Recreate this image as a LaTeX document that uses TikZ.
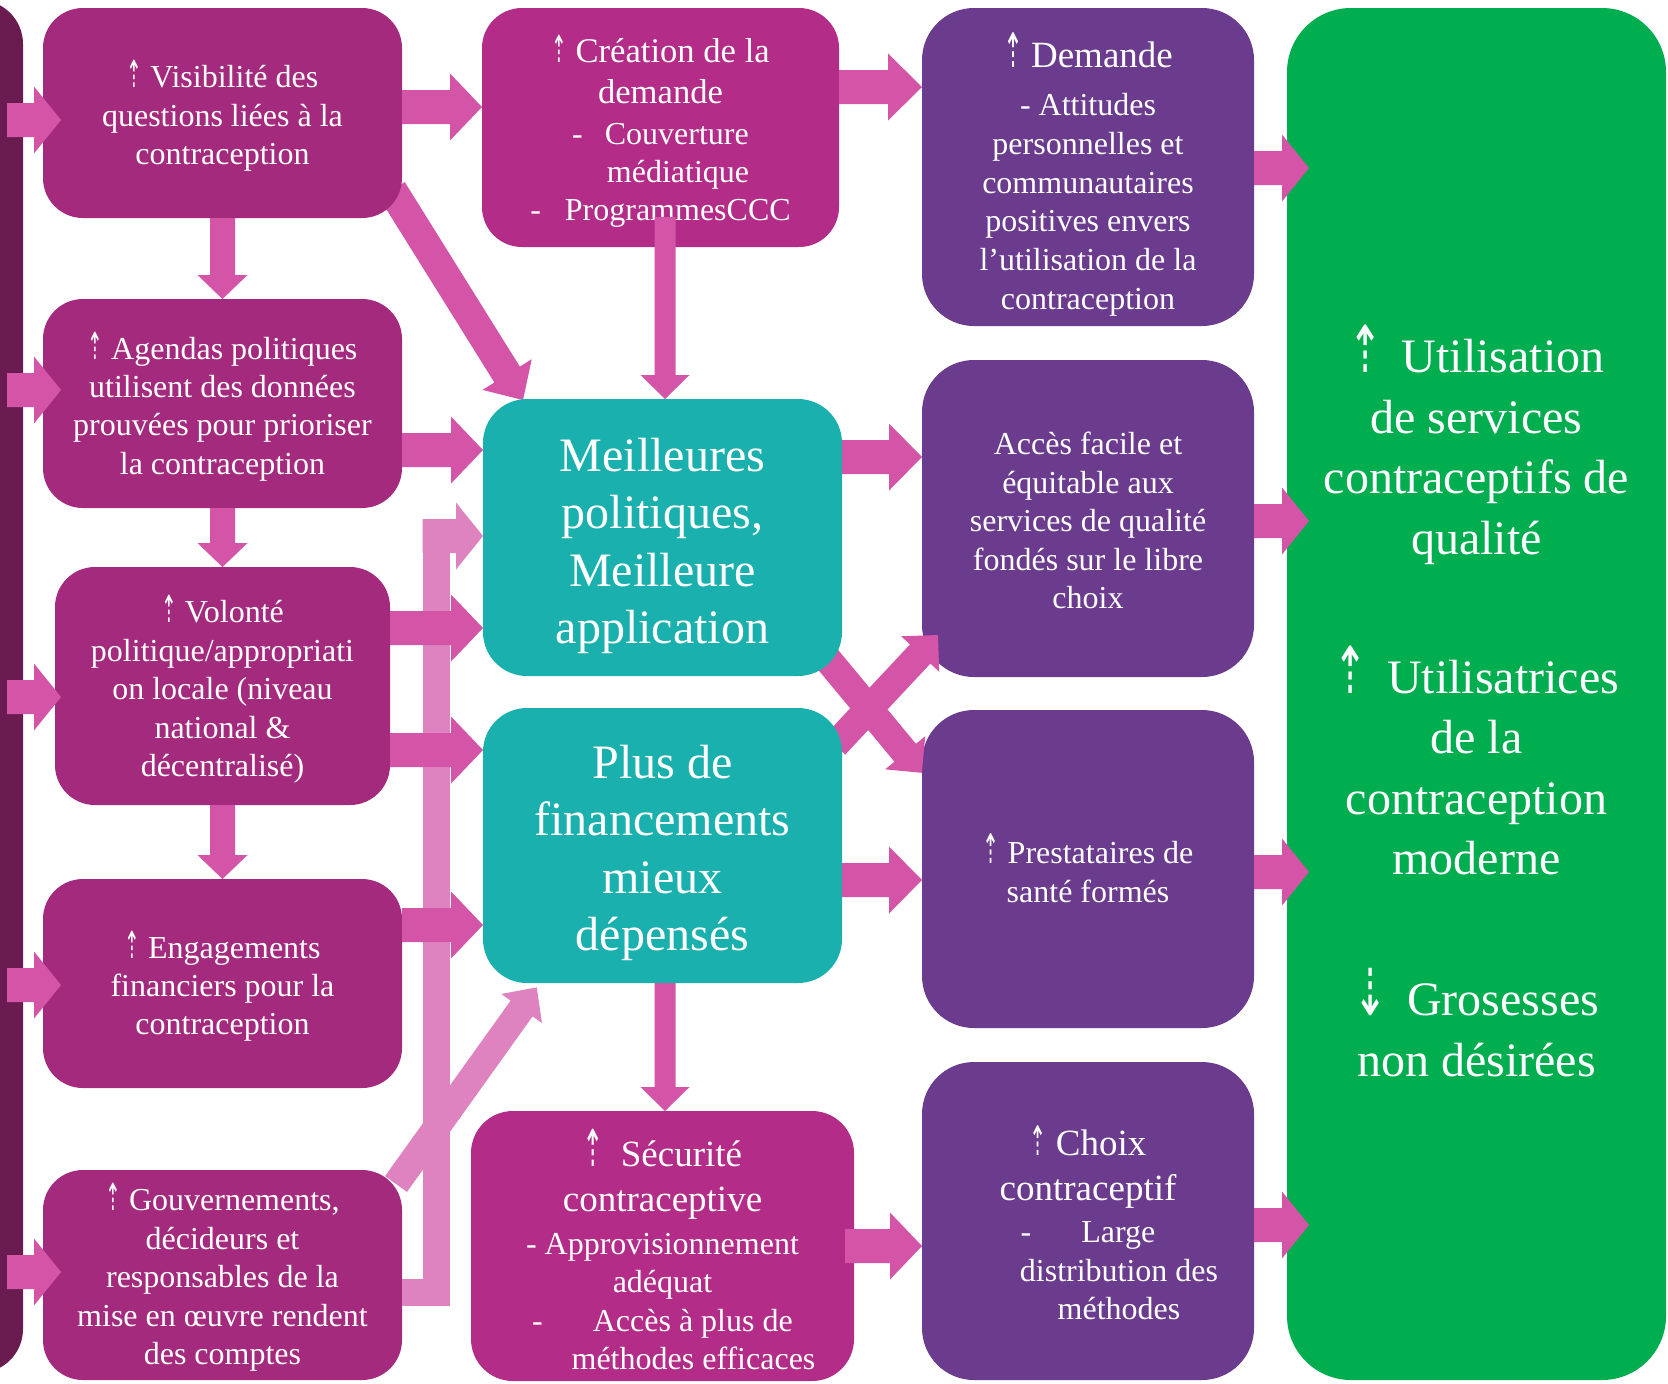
\documentclass[tikz,border=0pt]{standalone}
\usepackage{fontspec}
\usepackage{graphicx}
\setmainfont{Liberation Serif}
\newfontfamily\symfont{DejaVu Sans}
\usetikzlibrary{calc}
\definecolor{leftbox}{HTML}{A42A7E}
\definecolor{magbox}{HTML}{B22C88}
\definecolor{purbox}{HTML}{6B3B8E}
\definecolor{tealbox}{HTML}{1AB0AE}
\definecolor{greenbox}{HTML}{00AD4F}
\definecolor{darkstrip}{HTML}{6A1C51}
\definecolor{arrpink}{HTML}{D455A8}
\definecolor{arrlight}{HTML}{DE83C0}
\newcommand\fs[2]{\fontsize{#1}{#2}\selectfont}
\newcommand\upar[1]{\smash{\symfont\fontsize{#1}{#1}\selectfont\scalebox{0.85}[1.7]{⇡}}}
\newcommand\bigup{\smash{\symfont\fontsize{24pt}{24pt}\selectfont\scalebox{0.85}[1.35]{⇡}}}
\newcommand\bigdn{\smash{\symfont\fontsize{24pt}{24pt}\selectfont\scalebox{0.85}[1.35]{⇣}}}
% block arrow: #1 colour, #2 start, #3 tip, #4 shaft width, #5 head width, #6 head length
\newcommand\blockarrow[6]{%
  \path #2 coordinate (bas) #3 coordinate (bae);
  \pgfpointdiff{\pgfpointanchor{bas}{center}}{\pgfpointanchor{bae}{center}}%
  \pgfgetlastxy{\badx}{\bady}%
  \pgfmathsetmacro\baA{atan2(\bady,\badx)}%
  \pgfmathsetmacro\baL{veclen(\badx,\bady)}%
  \pgfpointanchor{bas}{center}\pgfgetlastxy{\baX}{\baY}%
  \fill[#1, shift={(\baX,\baY)}, rotate=\baA]
    (0pt,{-(#4)/2}) -- ({\baL pt-(#6)},{-(#4)/2}) -- ({\baL pt-(#6)},{-(#5)/2})
    -- ({\baL pt},0pt) -- ({\baL pt-(#6)},{(#5)/2}) -- ({\baL pt-(#6)},{(#4)/2})
    -- (0pt,{(#4)/2}) -- cycle;
}
\pgfdeclarelayer{bg}
\pgfdeclarelayer{mid}
\pgfsetlayers{bg,mid,main}
\begin{document}
\begin{tikzpicture}[x=0.5pt,y=-0.5pt,
  box/.style={rectangle, inner sep=0pt, outer sep=0pt},
  txt/.style={inner sep=0pt, outer sep=0pt, align=center, text=white, font=\fs{16pt}{19.2pt}},
  big/.style={font=\fs{24pt}{28.75pt}},
  leftb/.style={box, fill=leftbox, rounded corners=20pt, minimum width=179.5pt, minimum height=105pt},
  purb/.style={box, fill=purbox, rounded corners=26pt, minimum width=166pt, minimum height=159pt},
  tealb/.style={box, fill=tealbox, rounded corners=22pt, minimum width=179.5pt},
]
\useasboundingbox (0,0) rectangle (1668,1383);
% row / column helper coordinates
\coordinate (rA) at (0,120);
\coordinate (rB) at (0,390);
\coordinate (rC) at (0,697);
\coordinate (rD) at (0,985);
\coordinate (rE) at (0,1272);
\coordinate (rF) at (0,107);
\coordinate (rG) at (0,87);
\coordinate (rH) at (0,168);
\coordinate (rI) at (0,521);
\coordinate (rJ) at (0,872);
\coordinate (rK) at (0,1225);
\coordinate (rL) at (0,450);
\coordinate (rM) at (0,628);
\coordinate (rN) at (0,750);
\coordinate (rO) at (0,925);
\coordinate (rP) at (0,457);
\coordinate (rQ) at (0,880);
\coordinate (rR) at (0,1246);
\coordinate (rLb) at (0,1292);
\coordinate (rLt) at (0,536);
\coordinate (lbar) at (436,0);
\coordinate (cM) at (665,0);

\begin{pgfonlayer}{bg}
  \fill[white] (-10,-10) rectangle (1678,1393);
  \node[purb] (dem) at (1088,167) {};
  \node[purb, minimum height=158.5pt] (acc) at (1088,518.5) {};
  \node[purb] (pre) at (1088,869) {};
  \node[purb] (cho) at (1088,1221) {};
  \node[box, fill=greenbox, rounded corners=32pt, minimum width=189.5pt, minimum height=686pt] (grn) at (1476.5,694) {};
  \node[txt, font=\fs{16pt}{19.4pt}] (demT) at ($(dem.center)+(0,12)$)
    {\upar{14pt} {\fs{18.5pt}{22pt}Demande}\\[4.6pt] - Attitudes\\ personnelles et\\ communautaires\\ positives envers\\ l’utilisation de la\\ contraception};
  \node[txt] (accT) at ($(acc.center)+(0,2)$) {Accès facile et\\ équitable aux\\ services de qualité\\ fondés sur le libre\\ choix};
  \node[txt] (preT) at ($(pre.center)+(0,3)$) {\upar{12pt} Prestataires de\\ santé formés};
  \node[txt] (choT) at ($(cho.center)+(0,4)$)
    {{\fs{18.5pt}{22pt}\upar{12pt} Choix}\\[3.2pt] {\fs{18.5pt}{22pt}contraceptif}\\[2pt] -\hspace{25pt}Large\\ \hspace*{31pt}distribution des\\ \hspace*{31pt}méthodes};
  \node[txt, font=\fs{24pt}{30.3pt}] (grnT) at ($(grn.center)+(0,14)$)
    {\bigup\hspace{0.4em}Utilisation\\ de services\\ contraceptifs de\\ qualité\\[39pt]
     \bigup\hspace{0.4em}Utilisatrices\\ de la\\ contraception\\ moderne\\[40pt]
     \bigdn\hspace{0.4em}Grosesses\\ non désirées};
\end{pgfonlayer}

% main boxes
\node[box, fill=darkstrip, rounded corners=22pt, minimum width=51.5pt, minimum height=686.5pt] (strip) at (-28.5,686.5) {};
\node[leftb] (vis) at (222.5,113) {};
\node[leftb, minimum height=104.5pt] (age) at (222.5,403.5) {};
\node[leftb, minimum width=167.5pt, minimum height=119pt] (vol) at (222.5,686) {};
\node[leftb, minimum height=104.5pt] (eng) at (222.5,983.5) {};
\node[leftb] (gov) at (222.5,1275) {};
\node[box, fill=magbox, rounded corners=20pt, minimum width=178.5pt, minimum height=119.5pt] (cre) at (660.5,127.5) {};
\node[tealb, minimum height=138.5pt] (mei) at (662.5,537.5) {};
\node[tealb, minimum height=137.5pt] (plu) at (662.5,845.5) {};
\node[box, fill=magbox, rounded corners=21pt, minimum width=191.5pt, minimum height=135pt] (sec) at (662.5,1246) {};

\node[txt] (visT) at ($(vis.center)+(0,5.5)$) {\upar{11pt} Visibilité des\\ questions liées à la\\ contraception};
\node[txt] (ageT) at ($(age.center)+(0,5.5)$) {\upar{11pt} Agendas politiques\\ utilisent des données\\ prouvées pour prioriser\\ la contraception};
\node[txt] (volT) at ($(vol.center)+(0,6)$) {\upar{11pt} Volonté\\ politique/appropriati\\ on locale (niveau\\ national \&\\ décentralisé)};
\node[txt] (engT) at ($(eng.center)+(0,6)$) {\upar{11pt} Engagements\\ financiers pour la\\ contraception};
\node[txt] (govT) at ($(gov.center)+(0,5.5)$) {\upar{11pt} Gouvernements,\\ décideurs et\\ responsables de la\\ mise en œuvre rendent\\ des comptes};
\node[txt] (creT) at ($(cre.center)+(0,5.5)$)
  {{\fs{17.3pt}{20.7pt}\upar{11pt} Création de la}\\[1.5pt] {\fs{17.3pt}{20.7pt}demande}\\[1pt] -\hspace{11pt}Couverture\\ \hspace*{17.5pt}médiatique\\ -\hspace{12pt}ProgrammesCCC};
\node[txt, big] (meiT) at ($(mei.center)+(0,8.5)$) {Meilleures\\ politiques,\\ Meilleure\\ application};
\node[txt, big] (pluT) at ($(plu.center)+(0,7.5)$) {Plus de\\ financements\\ mieux\\ dépensés};
\node[txt] (secT) at ($(sec.center)+(0,9)$)
  {{\fs{18.5pt}{22pt}\upar{15pt}\hspace{0.45em}Sécurité}\\[3.7pt] {\fs{18.5pt}{22pt}contraceptive}\\[2pt] - Approvisionnement\\ adéquat\\ -\hspace{25pt}Accès à plus de\\ \hspace*{31pt}méthodes efficaces};

% arrows partly hidden behind boxes
\begin{pgfonlayer}{mid}
  \blockarrow{arrpink}{($(vis.south east)+(-10,-28)$)}{($(mei.north west)+(40,1)$)}{15pt}{29pt}{15pt}
  \blockarrow{arrlight}{($(gov.north east)+(-6,14)$)}{($(plu.south west)+(54,4)$)}{13.5pt}{25pt}{13pt}
  \blockarrow{arrpink}{($(mei.south east)+(-22,-26)$)}{($(pre.north west)+(0,63)$)}{14pt}{26pt}{13pt}
  \blockarrow{arrpink}{($(plu.north east)+(-7,37)$)}{($(acc.south west)+(16,-42)$)}{14pt}{26pt}{13pt}
\end{pgfonlayer}

% light bent arrow
\draw[arrlight, line width=13.5pt, line join=miter] (gov.east|-rLb) -- (lbar|-rLb) -- ($(lbar|-rLt)+(0,-17)$);
\blockarrow{arrlight}{($(lbar|-rLt)+(-13.5,0)$)}{(mei.west|-rLt)}{17pt}{33.5pt}{13.5pt}

% left inputs
\blockarrow{arrpink}{($(strip.east|-rA)+(-16,0)$)}{($(vis.west|-rA)+(18,0)$)}{17pt}{33.5pt}{13.5pt}
\blockarrow{arrpink}{($(strip.east|-rB)+(-16,0)$)}{($(age.west|-rB)+(18,0)$)}{17pt}{33.5pt}{13.5pt}
\blockarrow{arrpink}{($(strip.east|-rC)+(-16,0)$)}{($(vol.west|-rC)+(6,0)$)}{17pt}{33.5pt}{13.5pt}
\blockarrow{arrpink}{($(strip.east|-rD)+(-16,0)$)}{($(eng.west|-rD)+(18,0)$)}{17pt}{33.5pt}{13.5pt}
\blockarrow{arrpink}{($(strip.east|-rE)+(-16,0)$)}{($(gov.west|-rE)+(18,0)$)}{17pt}{33.5pt}{13.5pt}
% left column downward
\blockarrow{arrpink}{(vis.south)}{(age.north)}{12.5pt}{25pt}{12pt}
\blockarrow{arrpink}{(age.south)}{(vol.north)}{12.5pt}{25pt}{12pt}
\blockarrow{arrpink}{(vol.south)}{(eng.north)}{12.5pt}{25pt}{12pt}
% left column to middle
\blockarrow{arrpink}{(vis.east|-rF)}{(cre.west|-rF)}{17pt}{33.5pt}{16pt}
\blockarrow{arrpink}{(age.east|-rL)}{(mei.west|-rL)}{17pt}{33.5pt}{16pt}
\blockarrow{arrpink}{(vol.east|-rM)}{(mei.west|-rM)}{17pt}{33.5pt}{16pt}
\blockarrow{arrpink}{(vol.east|-rN)}{(plu.west|-rN)}{17pt}{33.5pt}{16pt}
\blockarrow{arrpink}{(eng.east|-rO)}{(plu.west|-rO)}{17pt}{33.5pt}{16pt}
% middle column
\blockarrow{arrpink}{(cre.east|-rG)}{(dem.west|-rG)}{17pt}{33.5pt}{17pt}
\blockarrow{arrpink}{($(cM|-cre.south)+(0,-30)$)}{(cM|-mei.north)}{10.5pt}{24.5pt}{12pt}
\blockarrow{arrpink}{(cM|-plu.south)}{(cM|-sec.north)}{10.5pt}{24.5pt}{12pt}
\blockarrow{arrpink}{(mei.east|-rP)}{(acc.west|-rP)}{17pt}{33.5pt}{16.5pt}
\blockarrow{arrpink}{(plu.east|-rQ)}{(pre.west|-rQ)}{17pt}{33.5pt}{16.5pt}
\blockarrow{arrpink}{($(sec.east|-rR)+(-9,0)$)}{(cho.west|-rR)}{17pt}{33.5pt}{16pt}
% right column to outcome
\blockarrow{arrpink}{(dem.east|-rH)}{($(grn.west|-rH)+(22,0)$)}{17pt}{33.5pt}{13.5pt}
\blockarrow{arrpink}{(acc.east|-rI)}{($(grn.west|-rI)+(22,0)$)}{17pt}{33.5pt}{13.5pt}
\blockarrow{arrpink}{(pre.east|-rJ)}{($(grn.west|-rJ)+(22,0)$)}{17pt}{33.5pt}{13.5pt}
\blockarrow{arrpink}{(cho.east|-rK)}{($(grn.west|-rK)+(22,0)$)}{17pt}{33.5pt}{13.5pt}
\end{tikzpicture}
\end{document}
